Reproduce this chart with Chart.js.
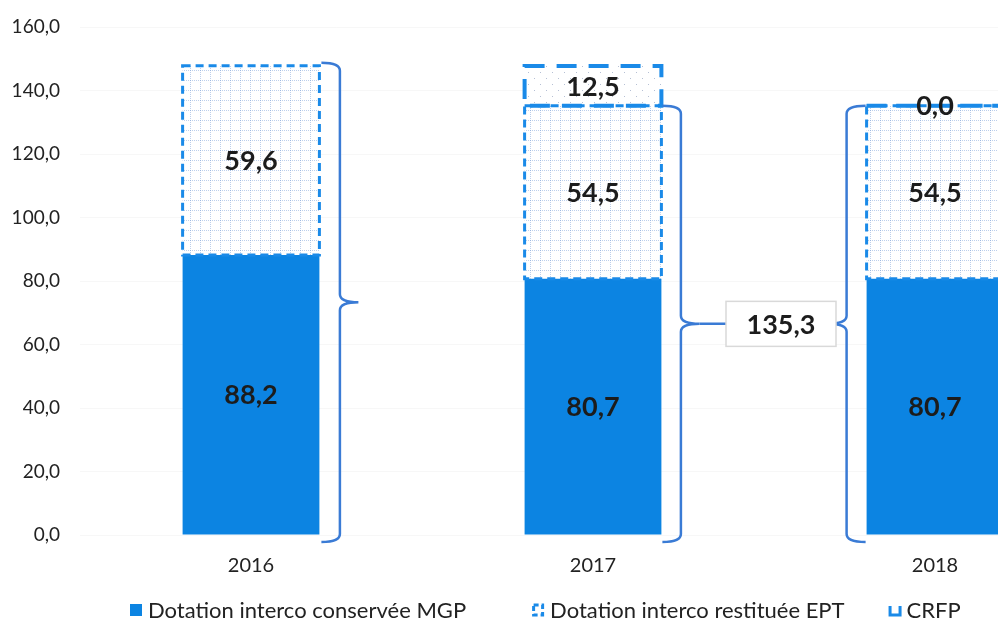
<!DOCTYPE html>
<html>
<head>
<meta charset="utf-8">
<script src="https://cdn.jsdelivr.net/npm/chart.js@4.4.0/dist/chart.umd.min.js"></script>
<style>
html, body { margin: 0; padding: 0; background: #fff; overflow: hidden; }
canvas { display: block; }
</style>
</head>
<body>
<canvas id="chart" width="1110" height="622"></canvas>
<script>
// Data
const categories = ['2016', '2017', '2018'];
const mgpValues = [88.2, 80.7, 80.7];
const eptValues = [59.6, 54.5, 54.5];
const crfpValues = [null, 12.5, 0.0];
const yTicks = [0, 20, 40, 60, 80, 100, 120, 140, 160];
const bracketTotal = 135.3;

const BLUE = '#0c84e2';
const DASH_BLUE = '#1a8ae8';
const BRACE_BLUE = '#3a7bd5';
const FONT = 'Lato, "Open Sans", sans-serif';

const canvas = document.getElementById('chart');
const ctx0 = canvas.getContext('2d');

function fmt(v) {
    return v.toFixed(1).replace('.', ',');
}

// Light grid pattern for the EPT part
function gridPattern() {
    const c = document.createElement('canvas');
    c.width = 10; c.height = 10;
    const g = c.getContext('2d');
    g.fillStyle = '#ffffff';
    g.fillRect(0, 0, 10, 10);
    g.fillStyle = 'rgba(110, 150, 210, 0.45)';
    for (let i = 0; i < 10; i += 2) {
        g.fillRect(0, i, 1, 1);
        g.fillRect(i, 0, 1, 1);
    }
    return ctx0.createPattern(c, 'repeat');
}

// Sparse dots for the CRFP part
function dotPattern() {
    const c = document.createElement('canvas');
    c.width = 12; c.height = 12;
    const g = c.getContext('2d');
    g.fillStyle = '#ffffff';
    g.fillRect(0, 0, 12, 12);
    g.fillStyle = 'rgba(110, 130, 170, 0.5)';
    g.fillRect(0, 0, 1, 1);
    g.fillRect(6, 6, 1, 1);
    return ctx0.createPattern(c, 'repeat');
}

function drawBrace(ctx, x, top, bottom, w, dir) {
    const mid = (top + bottom) / 2;
    const h = (w / 2) * dir;
    const r = 8;
    ctx.beginPath();
    ctx.moveTo(x, top);
    ctx.quadraticCurveTo(x + h, top, x + h, top + r);
    ctx.lineTo(x + h, mid - r);
    ctx.quadraticCurveTo(x + h, mid, x + w * dir, mid);
    ctx.quadraticCurveTo(x + h, mid, x + h, mid + r);
    ctx.lineTo(x + h, bottom - r);
    ctx.quadraticCurveTo(x + h, bottom, x, bottom);
    ctx.stroke();
    return x + w * dir;
}

const overlayPlugin = {
    id: 'overlay',
    afterDatasetsDraw(chart) {
        const ctx = chart.ctx;
        const yScale = chart.scales.y;
        const xScale = chart.scales.x;
        const ds = chart.data.datasets;

        // dashed outlines
        const outlines = [
            { ds: 1, dash: [8, 5], width: 3 },
            { ds: 2, dash: [20, 12], width: 4 }
        ];
        outlines.forEach(o => {
            chart.getDatasetMeta(o.ds).data.forEach((bar, i) => {
                if (ds[o.ds].data[i] == null) return;
                const p = bar.getProps(['x', 'y', 'base', 'width'], true);
                ctx.save();
                ctx.setLineDash(o.dash);
                ctx.lineWidth = o.width;
                ctx.strokeStyle = DASH_BLUE;
                ctx.strokeRect(p.x - p.width / 2, Math.min(p.y, p.base), p.width, Math.abs(p.base - p.y));
                ctx.restore();
            });
        });

        // value labels
        ctx.save();
        ctx.font = 'bold 27px ' + FONT;
        ctx.fillStyle = '#1c1c1c';
        ctx.textAlign = 'center';
        ctx.textBaseline = 'middle';
        ds.forEach((d, di) => {
            chart.getDatasetMeta(di).data.forEach((bar, i) => {
                const v = d.data[i];
                if (v == null) return;
                const p = bar.getProps(['x', 'y', 'base'], true);
                ctx.fillText(fmt(v), p.x, (p.y + p.base) / 2 + 1);
            });
        });
        ctx.restore();

        // braces
        const bars = i => chart.getDatasetMeta(0).data[i].getProps(['x', 'width'], true);
        const bottom = yScale.getPixelForValue(0) + 7;
        ctx.save();
        ctx.strokeStyle = BRACE_BLUE;
        ctx.lineWidth = 2.5;
        const b0 = bars(0);
        drawBrace(ctx, b0.x + b0.width / 2 + 2,
            yScale.getPixelForValue(mgpValues[0] + eptValues[0] + (crfpValues[0] || 0)) - 3, bottom, 37, 1);
        const b1 = bars(1);
        const top1 = yScale.getPixelForValue(mgpValues[1] + eptValues[1]);
        const tipL = drawBrace(ctx, b1.x + b1.width / 2 + 1, top1, bottom, 37, 1);
        const b2 = bars(2);
        const top2 = yScale.getPixelForValue(mgpValues[2] + eptValues[2] + (crfpValues[2] || 0));
        const tipR = drawBrace(ctx, b2.x - b2.width / 2 - 1, top2, bottom, 38, -1);

        // total box
        const midY = (top1 + bottom) / 2;
        const boxW = 110, boxH = 45;
        const cx = xScale.getPixelForValue(1.5) + 17;
        const bx = cx - boxW / 2;
        ctx.beginPath();
        ctx.moveTo(tipL, midY); ctx.lineTo(bx, midY);
        ctx.moveTo(bx + boxW, midY); ctx.lineTo(tipR, midY);
        ctx.stroke();
        ctx.fillStyle = '#ffffff';
        ctx.fillRect(bx, midY - boxH / 2, boxW, boxH);
        ctx.strokeStyle = '#d9d9d9';
        ctx.lineWidth = 1.5;
        ctx.strokeRect(bx, midY - boxH / 2, boxW, boxH);
        ctx.font = 'bold 27px ' + FONT;
        ctx.fillStyle = '#1c1c1c';
        ctx.textAlign = 'center';
        ctx.textBaseline = 'middle';
        ctx.fillText(fmt(bracketTotal), cx, midY + 1);
        ctx.restore();
    },
    afterDraw(chart) {
        // legend
        const ctx = chart.ctx;
        const y = 610;
        const gaps = [66, 44];
        ctx.save();
        ctx.font = '22px ' + FONT;
        ctx.textBaseline = 'middle';
        ctx.fillStyle = '#222';
        const items = chart.data.datasets.map(d => ({ text: d.label, w: 18 + ctx.measureText(d.label).width }));
        let x = 130;
        items.forEach((it, i) => {
            ctx.save();
            if (i === 0) {
                ctx.fillStyle = BLUE;
                ctx.fillRect(x, y - 6, 12, 12);
            } else if (i === 1) {
                ctx.strokeStyle = DASH_BLUE;
                ctx.lineWidth = 3;
                ctx.setLineDash([5, 3]);
                ctx.strokeRect(x + 1.5, y - 5, 9, 10);
            } else {
                ctx.strokeStyle = DASH_BLUE;
                ctx.lineWidth = 3;
                ctx.beginPath();
                ctx.moveTo(x + 1.5, y - 4);
                ctx.lineTo(x + 1.5, y + 5);
                ctx.lineTo(x + 11.5, y + 5);
                ctx.lineTo(x + 11.5, y - 4);
                ctx.stroke();
            }
            ctx.restore();
            ctx.fillText(it.text, x + 18, y + 1);
            x += it.w + (gaps[i] || 0);
        });
        ctx.restore();
    }
};

new Chart(canvas, {
    type: 'bar',
    data: {
        labels: categories,
        datasets: [
            {
                label: 'Dotation interco conservée MGP',
                data: mgpValues,
                backgroundColor: BLUE,
                borderWidth: 0
            },
            {
                label: 'Dotation interco restituée EPT',
                data: eptValues,
                backgroundColor: gridPattern(),
                borderWidth: 0
            },
            {
                label: 'CRFP',
                data: crfpValues,
                backgroundColor: dotPattern(),
                borderWidth: 0
            }
        ]
    },
    options: {
        responsive: false,
        animation: false,
        devicePixelRatio: 1,
        layout: {
            padding: { top: 27, right: 4, bottom: 25, left: 0 }
        },
        datasets: {
            bar: {
                categoryPercentage: 1,
                barPercentage: 0.4
            }
        },
        plugins: {
            legend: { display: false },
            tooltip: { enabled: false }
        },
        scales: {
            x: {
                stacked: true,
                border: { display: false },
                grid: { display: false, drawTicks: false },
                ticks: {
                    padding: 19,
                    color: '#222',
                    font: { family: FONT, size: 20 }
                }
            },
            y: {
                stacked: true,
                min: yTicks[0],
                max: yTicks[yTicks.length - 1],
                border: { display: false },
                grid: { color: 'rgba(0, 0, 0, 0.03)', drawTicks: false },
                afterFit: function(scale) {
                    scale.width = 80;
                    scale.paddingTop = 0;
                    scale.paddingBottom = 0;
                },
                afterBuildTicks: function(scale) {
                    scale.ticks = yTicks.map(v => ({ value: v }));
                },
                ticks: {
                    padding: 20,
                    color: '#222',
                    font: { family: FONT, size: 19 },
                    callback: function(value) { return fmt(value); }
                }
            }
        }
    },
    plugins: [overlayPlugin]
});
</script>
</body>
</html>
